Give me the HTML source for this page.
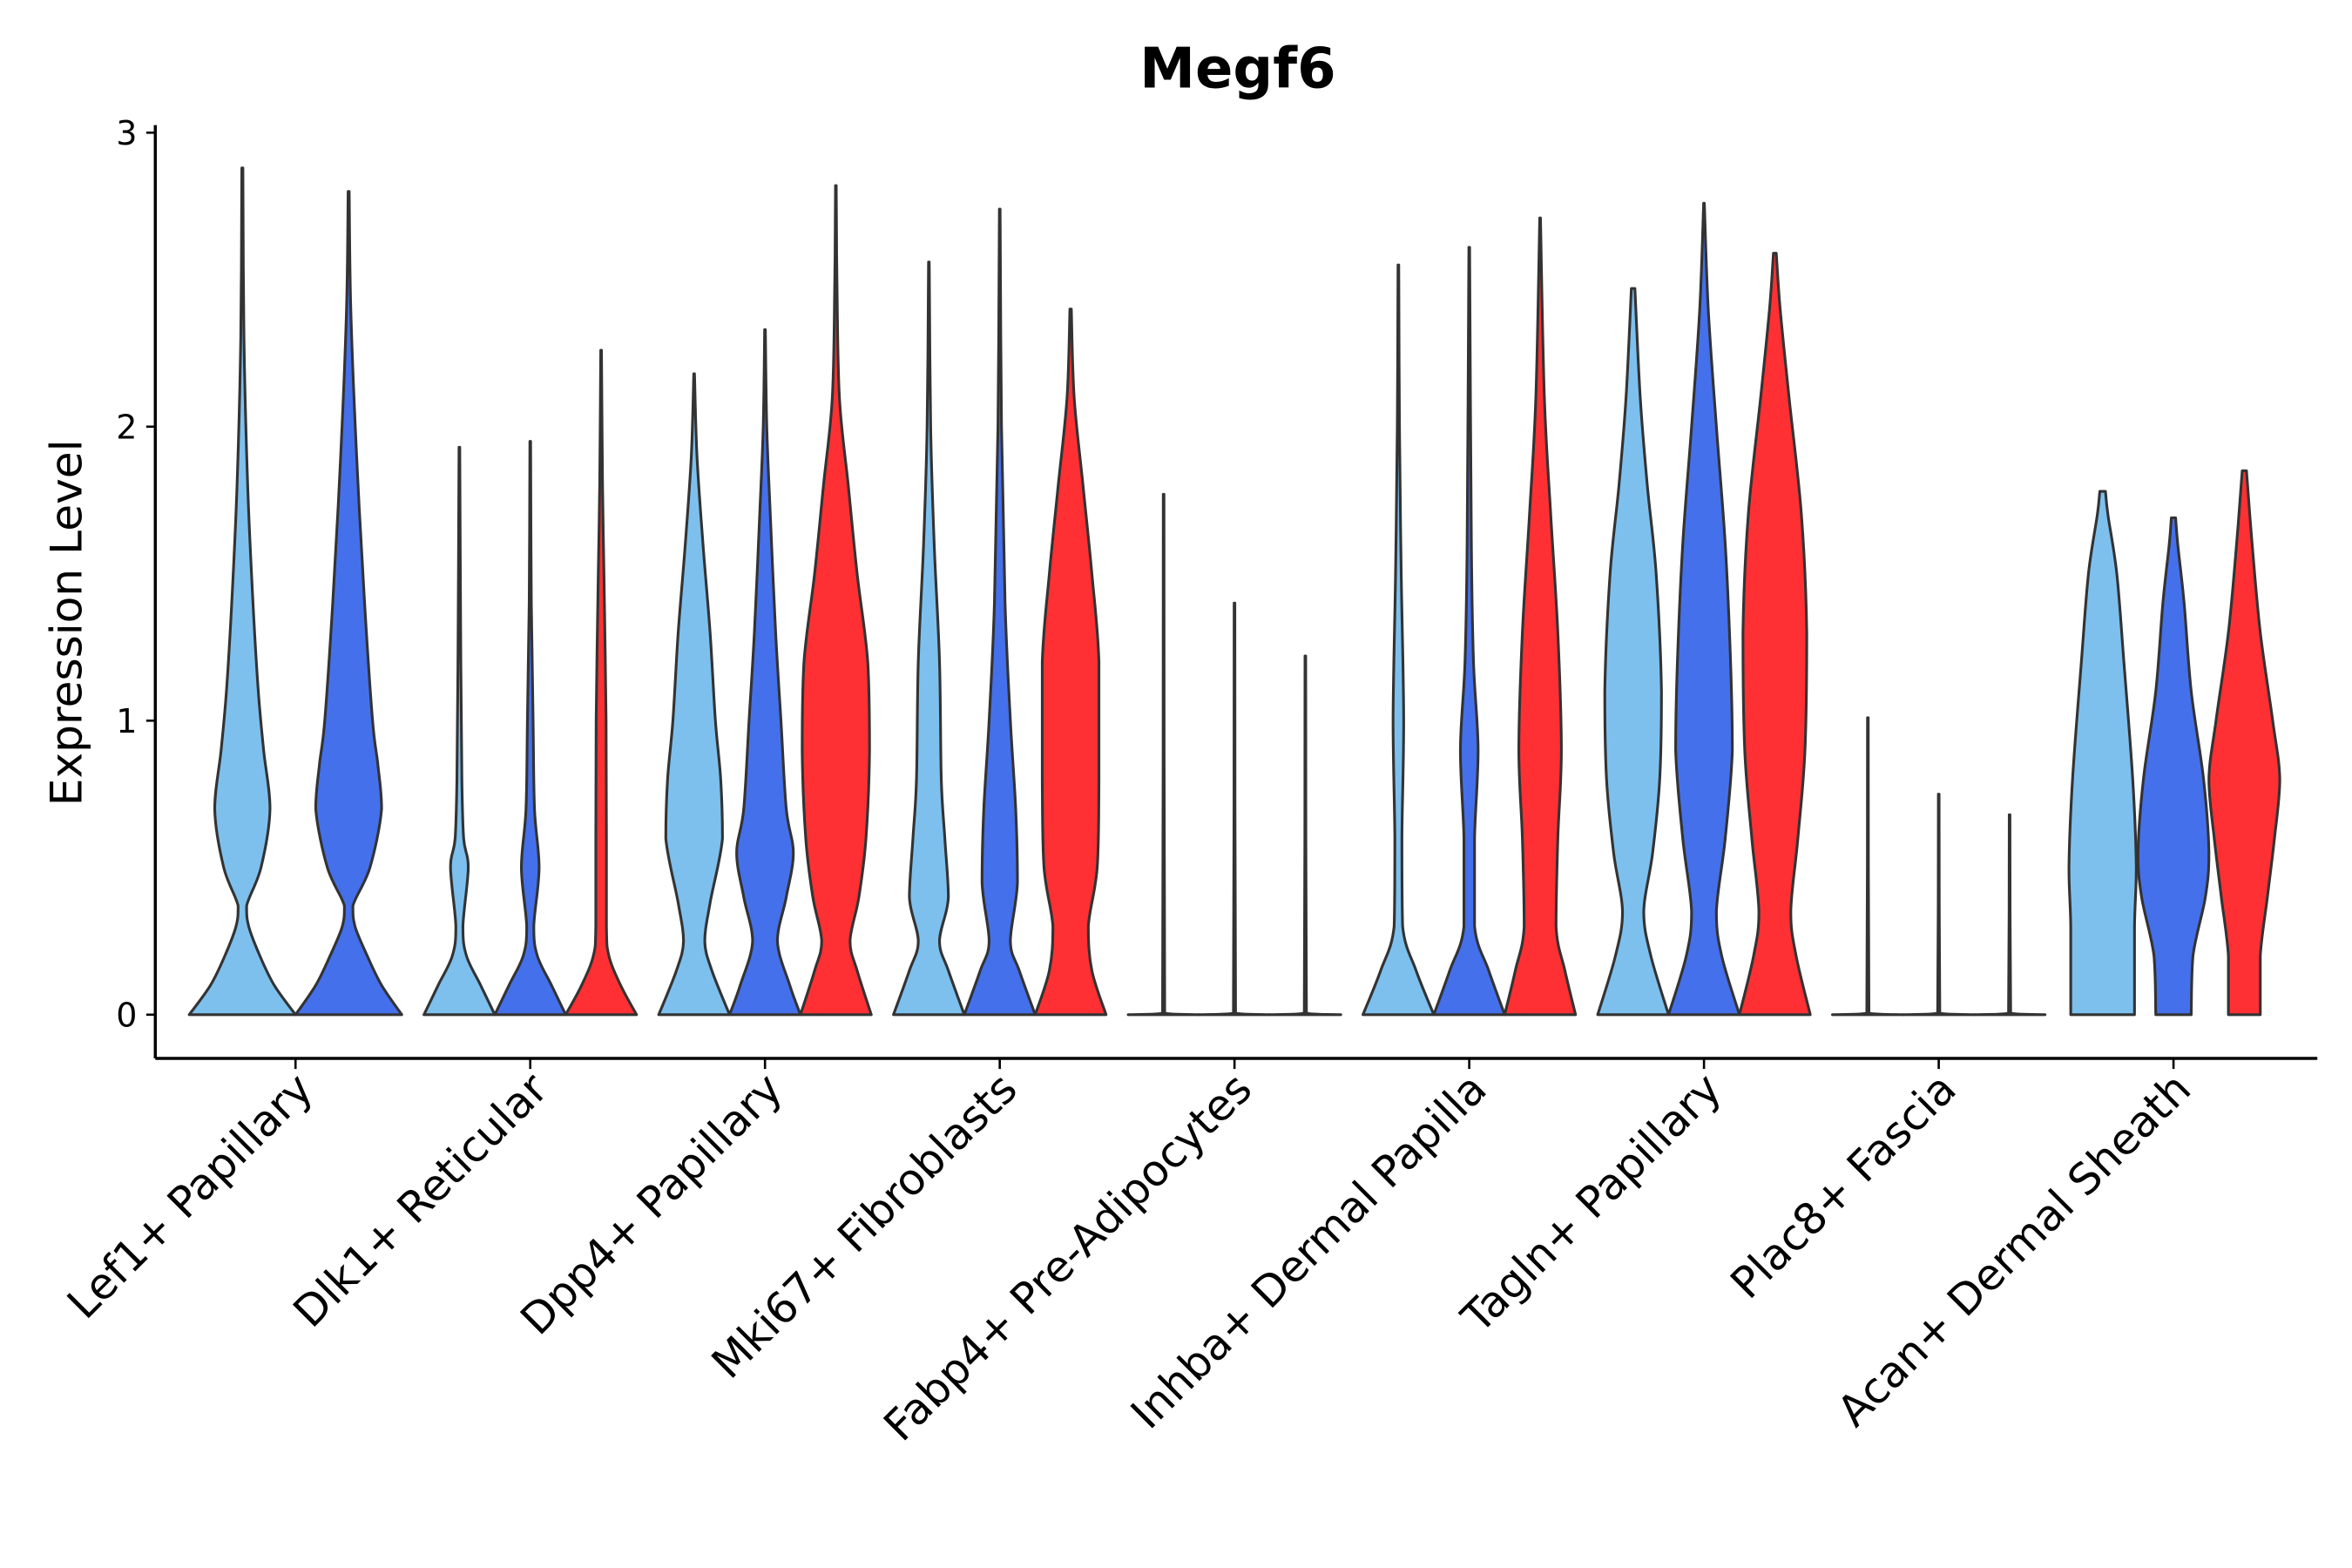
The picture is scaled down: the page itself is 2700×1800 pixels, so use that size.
<!DOCTYPE html>
<html><head><meta charset="utf-8"><style>html,body{margin:0;padding:0;background:#fff}svg{display:block}</style></head>
<body>
<svg id="chart" width="2700" height="1800" viewBox="0 0 1560 1040" xmlns="http://www.w3.org/2000/svg" font-family="'DejaVu Sans','Liberation Sans',sans-serif">
<rect width="1560" height="1040" fill="#fff"/>
<text x="821" y="58" text-anchor="middle" font-size="37" font-weight="bold">Megf6</text>
<text transform="translate(54,413) rotate(-90)" text-anchor="middle" font-size="29">Expression Level</text>
<g id="axes"></g>
<g id="violins"></g>
</svg>
<script>
const categories = ["Lef1+ Papillary","Dlk1+ Reticular","Dpp4+ Papillary","Mki67+ Fibroblasts","Fabp4+ Pre-Adipocytes","Inhba+ Dermal Papilla","Tagln+ Papillary","Plac8+ Fascia","Acan+ Dermal Sheath"];
const yTicks = [0,1,2,3];
const seriesColors = ["#7DC0EE","#4570EC","#FF3033"];
// profiles: [value, relative width]
const lef1 = [
 [[0,1],[0.1,0.6],[0.2,0.33],[0.3,0.12],[0.37,0.08],[0.5,0.35],[0.7,0.52],[0.9,0.4],[1.1,0.3],[1.4,0.2],[1.8,0.1],[2.3,0.03],[2.88,0.01]],
 [[0,1],[0.1,0.62],[0.2,0.35],[0.3,0.12],[0.37,0.08],[0.5,0.4],[0.7,0.62],[0.85,0.55],[1.0,0.45],[1.4,0.3],[1.9,0.15],[2.4,0.04],[2.8,0.01]]];
const dlk1 = [
 [[0,1],[0.1,0.6],[0.2,0.2],[0.3,0.1],[0.5,0.25],[0.6,0.12],[0.8,0.07],[1.2,0.04],[1.93,0.01]],
 [[0,1],[0.1,0.6],[0.2,0.2],[0.3,0.1],[0.5,0.25],[0.7,0.12],[1.0,0.08],[1.4,0.03],[1.95,0.01]],
 [[0,1],[0.1,0.55],[0.2,0.22],[0.3,0.15],[0.6,0.15],[1.0,0.14],[1.5,0.08],[1.8,0.04],[2.26,0.01]]];
const dpp4 = [
 [[0,1],[0.15,0.5],[0.25,0.3],[0.38,0.45],[0.6,0.8],[0.8,0.75],[1.0,0.6],[1.3,0.45],[1.6,0.25],[1.9,0.08],[2.18,0.01]],
 [[0,1],[0.1,0.7],[0.25,0.35],[0.4,0.6],[0.55,0.8],[0.7,0.6],[1.0,0.45],[1.3,0.3],[1.7,0.15],[2.0,0.05],[2.33,0.01]],
 [[0,1],[0.15,0.6],[0.25,0.4],[0.4,0.65],[0.6,0.85],[0.9,0.95],[1.2,0.9],[1.5,0.6],[1.8,0.35],[2.1,0.1],[2.5,0.03],[2.82,0.01]]];
const mki67 = [
 [[0,1],[0.15,0.55],[0.25,0.3],[0.4,0.55],[0.6,0.45],[0.8,0.35],[1.2,0.3],[1.6,0.15],[2.0,0.05],[2.56,0.01]],
 [[0,1],[0.15,0.55],[0.25,0.3],[0.45,0.5],[0.7,0.45],[1.0,0.3],[1.4,0.15],[2.0,0.05],[2.74,0.01]],
 [[0,1],[0.15,0.6],[0.3,0.5],[0.5,0.75],[0.8,0.8],[1.2,0.8],[1.5,0.6],[1.8,0.35],[2.1,0.1],[2.4,0.02]]];
const fabp4 = [
 [[0,1],[0.005,0.03],[1.77,0.01]],
 [[0,1],[0.005,0.03],[1.40,0.01]],
 [[0,1],[0.005,0.03],[1.22,0.01]]];
const inhba = [
 [[0,1],[0.15,0.5],[0.3,0.12],[0.6,0.1],[1.0,0.15],[1.5,0.08],[2.0,0.03],[2.55,0.01]],
 [[0,1],[0.15,0.55],[0.3,0.15],[0.6,0.15],[0.9,0.25],[1.2,0.12],[1.6,0.06],[2.61,0.01]],
 [[0,1],[0.15,0.7],[0.3,0.45],[0.6,0.5],[0.9,0.6],[1.3,0.5],[1.7,0.3],[2.1,0.12],[2.71,0.01]]];
const tagln = [
 [[0,1],[0.2,0.5],[0.35,0.3],[0.55,0.55],[0.8,0.75],[1.1,0.8],[1.5,0.65],[1.8,0.4],[2.1,0.2],[2.47,0.05]],
 [[0,1],[0.2,0.5],[0.35,0.35],[0.6,0.6],[0.9,0.8],[1.2,0.75],[1.6,0.6],[2.0,0.35],[2.4,0.12],[2.76,0.01]],
 [[0,1],[0.2,0.6],[0.35,0.45],[0.6,0.65],[0.9,0.85],[1.3,0.9],[1.7,0.75],[2.1,0.4],[2.4,0.15],[2.59,0.04]]];
const plac8 = [
 [[0,1],[0.005,0.03],[1.01,0.01]],
 [[0,1],[0.005,0.03],[0.75,0.01]],
 [[0,1],[0.005,0.03],[0.68,0.01]]];
const acan = [
 [[0,0.9],[0.3,0.9],[0.5,0.95],[0.8,0.85],[1.2,0.6],[1.5,0.4],[1.7,0.15],[1.78,0.08]],
 [[0,0.5],[0.2,0.55],[0.4,0.9],[0.55,1],[0.8,0.85],[1.1,0.5],[1.4,0.3],[1.6,0.12],[1.69,0.06]],
 [[0,0.45],[0.2,0.45],[0.4,0.65],[0.6,0.85],[0.8,1],[1.0,0.8],[1.3,0.45],[1.6,0.22],[1.85,0.06]]];
const violinData = [lef1,dlk1,dpp4,mki67,fabp4,inhba,tagln,plac8,acan];

const NS="http://www.w3.org/2000/svg";
const plotL=103, plotR=1537, axisY=702, y0px=673, pxPerUnit=195;
const firstCx=196, stepX=155.7, dodgeW=141;
function yScale(v){return y0px - v*pxPerUnit;}
function xCat(i){return firstCx + i*stepX;}
function mk(tag,attrs,parent){const e=document.createElementNS(NS,tag);for(const k in attrs)e.setAttribute(k,attrs[k]);parent.appendChild(e);return e;}
function c2k(s){return s.toLowerCase().replace(/[^a-z0-9]+/g,'-').replace(/-+$/,'');}
function clamp(v,a,b){const lo=Math.min(a,b),hi=Math.max(a,b);return Math.max(lo,Math.min(hi,v));}
function smooth(pts){
  let d='';
  for(let i=0;i<pts.length-1;i++){
    const p0=pts[Math.max(0,i-1)],p1=pts[i],p2=pts[i+1],p3=pts[Math.min(pts.length-1,i+2)];
    const c1=[clamp(p1[0]+(p2[0]-p0[0])/6,p1[0],p2[0]),clamp(p1[1]+(p2[1]-p0[1])/6,p1[1],p2[1])];
    const c2=[clamp(p2[0]-(p3[0]-p1[0])/6,p1[0],p2[0]),clamp(p2[1]-(p3[1]-p1[1])/6,p1[1],p2[1])];
    d+=` C${c1[0].toFixed(2)},${c1[1].toFixed(2)} ${c2[0].toFixed(2)},${c2[1].toFixed(2)} ${p2[0].toFixed(2)},${p2[1].toFixed(2)}`;
  }
  return d;
}
const axes=document.getElementById('axes'), vg=document.getElementById('violins');

let l=mk('line',{x1:plotL,y1:83,x2:plotL,y2:axisY,stroke:'#000','stroke-width':2},axes);


l=mk('line',{x1:plotL,y1:axisY,x2:plotR,y2:axisY,stroke:'#000','stroke-width':2},axes);


yTicks.forEach(t=>{
  const y=yScale(t);
  const tk=mk('line',{x1:plotL-6,y1:y,x2:plotL,y2:y,stroke:'#000','stroke-width':1.5},axes);
  
  
  const tx=mk('text',{x:plotL-12,y:y+8,'text-anchor':'end','font-size':22},axes);
  tx.textContent=t;
  
  
});
categories.forEach((c,i)=>{
  const x=xCat(i);
  const tk=mk('line',{x1:x,y1:axisY,x2:x,y2:axisY+7,stroke:'#000','stroke-width':1.5},axes);
  
  
  const tx=mk('text',{transform:`translate(${x+13},${axisY+22}) rotate(-45)`,'text-anchor':'end','font-size':28.5},axes);
  tx.textContent=c;
  
  
});
violinData.forEach((group,i)=>{
  const n=group.length, sw=dodgeW/n, start=xCat(i)-dodgeW/2;
  const colorIdx = n===2 ? [0,1] : [0,1,2];
  group.forEach((prof,j)=>{
    const cx=start+(j+0.5)*sw, hw=sw/2;
    const right=prof.map(p=>[cx+p[1]*hw,yScale(p[0])]);
    const left=prof.slice().reverse().map(p=>[cx-p[1]*hw,yScale(p[0])]);
    const d=`M${left[left.length-1][0].toFixed(2)},${left[left.length-1][1].toFixed(2)} L${right[0][0].toFixed(2)},${right[0][1].toFixed(2)}`+smooth(right)+` L${left[0][0].toFixed(2)},${left[0][1].toFixed(2)}`+smooth(left)+' Z';
    const p=mk('path',{d:d,fill:seriesColors[colorIdx[j]],stroke:'#333','stroke-width':1.8,'stroke-linejoin':'round'},vg);
    
    
  });
});
</script>
</body></html>
